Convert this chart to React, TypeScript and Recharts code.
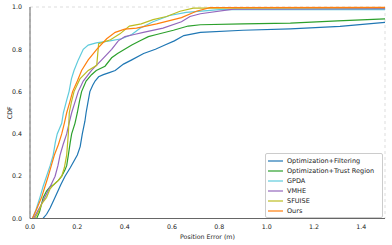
import React from 'react';
import { LineChart, Line, XAxis, YAxis, CartesianGrid, Legend } from 'recharts';

// CDF curves: [position error (m), CDF]
const OPT_FILTERING: [number, number][] = [
  [0, 0], [0.055, 0], [0.07, 0.02], [0.085, 0.05], [0.106, 0.1], [0.13, 0.16], [0.148, 0.2], [0.17, 0.24],
  [0.2, 0.3], [0.212, 0.34], [0.221, 0.4], [0.232, 0.46], [0.237, 0.5], [0.245, 0.55], [0.253, 0.6],
  [0.265, 0.63], [0.275, 0.65], [0.29, 0.67], [0.31, 0.68], [0.335, 0.69], [0.36, 0.7], [0.395, 0.73],
  [0.43, 0.75], [0.48, 0.78], [0.53, 0.8], [0.57, 0.82], [0.61, 0.84], [0.65, 0.865], [0.72, 0.88],
  [0.9, 0.89], [1.1, 0.897], [1.31, 0.908], [1.5, 0.927],
];
const OPT_TRUST: [number, number][] = [
  [0, 0], [0.028, 0], [0.04, 0.03], [0.056, 0.1], [0.07, 0.13], [0.085, 0.15], [0.1, 0.16], [0.12, 0.18],
  [0.134, 0.2], [0.148, 0.23], [0.155, 0.25], [0.162, 0.3], [0.17, 0.36], [0.176, 0.4], [0.19, 0.45],
  [0.2, 0.5], [0.21, 0.56], [0.218, 0.6], [0.237, 0.65], [0.26, 0.68], [0.28, 0.7], [0.317, 0.72],
  [0.345, 0.76], [0.37, 0.78], [0.4, 0.8], [0.43, 0.82], [0.465, 0.84], [0.5, 0.86], [0.535, 0.87],
  [0.606, 0.89], [0.668, 0.91], [0.72, 0.916], [0.9, 0.92], [1.1, 0.924], [1.3, 0.934], [1.5, 0.944],
];
const GPDA: [number, number][] = [
  [0, 0], [0.01, 0], [0.025, 0.04], [0.042, 0.1], [0.055, 0.15], [0.07, 0.2], [0.085, 0.25], [0.098, 0.3],
  [0.107, 0.36], [0.115, 0.4], [0.134, 0.45], [0.141, 0.5], [0.155, 0.56], [0.165, 0.6], [0.175, 0.66],
  [0.186, 0.7], [0.204, 0.75], [0.225, 0.8], [0.246, 0.82], [0.28, 0.83], [0.338, 0.84], [0.387, 0.85],
  [0.43, 0.87], [0.465, 0.9], [0.52, 0.93], [0.59, 0.96], [0.66, 0.975], [0.8, 0.988], [1.5, 0.988],
];
const VMHE: [number, number][] = [
  [0, 0], [0.015, 0], [0.03, 0.03], [0.045, 0.06], [0.063, 0.1], [0.085, 0.15], [0.106, 0.2], [0.118, 0.25],
  [0.127, 0.3], [0.14, 0.35], [0.155, 0.4], [0.165, 0.45], [0.176, 0.5], [0.19, 0.55], [0.204, 0.6],
  [0.225, 0.65], [0.26, 0.7], [0.303, 0.75], [0.345, 0.8], [0.373, 0.84], [0.401, 0.86], [0.44, 0.87],
  [0.479, 0.88], [0.562, 0.9], [0.64, 0.93], [0.676, 0.955], [0.72, 0.968], [0.86, 0.99], [1.5, 0.992],
];
const SFUISE: [number, number][] = [
  [0, 0], [0.02, 0], [0.035, 0.03], [0.05, 0.07], [0.07, 0.1], [0.085, 0.14], [0.1, 0.16], [0.12, 0.18],
  [0.134, 0.2], [0.145, 0.24], [0.155, 0.3], [0.162, 0.4], [0.166, 0.5], [0.175, 0.55], [0.186, 0.6],
  [0.211, 0.66], [0.246, 0.7], [0.282, 0.724], [0.29, 0.826], [0.34, 0.845], [0.38, 0.873], [0.42, 0.91],
  [0.47, 0.92], [0.52, 0.94], [0.577, 0.955], [0.634, 0.98], [0.69, 0.995], [1.5, 0.997],
];
const OURS: [number, number][] = [
  [0, 0], [0.01, 0], [0.03, 0.05], [0.049, 0.1], [0.063, 0.15], [0.077, 0.2], [0.09, 0.25], [0.103, 0.3],
  [0.12, 0.35], [0.134, 0.4], [0.145, 0.45], [0.155, 0.5], [0.168, 0.55], [0.18, 0.6], [0.2, 0.65],
  [0.218, 0.7], [0.246, 0.75], [0.282, 0.8], [0.324, 0.85], [0.36, 0.88], [0.4, 0.895], [0.45, 0.9],
  [0.535, 0.92], [0.64, 0.95], [0.703, 0.98], [0.76, 0.997], [1.5, 0.998],
];

const X_TICKS = [0, 0.2, 0.4, 0.6, 0.8, 1.0, 1.2, 1.4];
const Y_TICKS = [0, 0.2, 0.4, 0.6, 0.8, 1.0];

const SERIES = [
  { name: 'Optimization+Filtering', color: '#1f77b4', points: OPT_FILTERING },
  { name: 'Optimization+Trust Region', color: '#2ca02c', points: OPT_TRUST },
  { name: 'GPDA', color: '#5fcbdc', points: GPDA },
  { name: 'VMHE', color: '#9467bd', points: VMHE },
  { name: 'SFUISE', color: '#bcbd22', points: SFUISE },
  { name: 'Ours', color: '#ff7f0e', points: OURS },
];

const FONT = '"DejaVu Sans", sans-serif';
const SPINE = '#666';

const renderLegend = () => (
  <div style={{
    width: 114, padding: '2px 0 1px 2px', background: 'rgba(255,255,255,0.85)',
    border: '1px solid #ccc', borderRadius: 2, fontFamily: FONT, fontSize: 6.5, color: '#222',
  }}>
    {SERIES.map((s) => (
      <div key={s.name} style={{ display: 'flex', alignItems: 'center', height: 10 }}>
        <span style={{ width: 15, height: 1.5, background: s.color, opacity: 0.6, marginRight: 4 }} />
        <span>{s.name}</span>
      </div>
    ))}
  </div>
);

export default function App() {
  return (
    <div style={{ position: 'absolute', left: 0, top: 0, background: '#fff' }}>
      <LineChart width={392} height={245} margin={{ top: 7, right: 7, left: 0, bottom: 0 }}>
        <CartesianGrid stroke="#ddd" strokeDasharray="3 3" />
        <XAxis
          xAxisId="b" dataKey="x" type="number" domain={[0, 1.5]} ticks={X_TICKS} height={26.5}
          tickFormatter={(v: number) => v.toFixed(1)} tickLine={false} tickMargin={0}
          stroke={SPINE} tick={{ fontSize: 6.3, fill: '#222', fontFamily: FONT }}
          label={{ value: 'Position Error (m)', position: 'insideBottom', offset: 6, fontSize: 6.3, fill: '#222', fontFamily: FONT }}
        />
        <XAxis xAxisId="t" orientation="top" type="number" domain={[0, 1.5]} height={0} tick={false} tickLine={false} stroke={SPINE} />
        <YAxis
          yAxisId="l" type="number" domain={[0, 1]} ticks={Y_TICKS} width={30}
          tickFormatter={(v: number) => v.toFixed(1)} tickLine={false} tickMargin={2}
          stroke={SPINE} tick={{ fontSize: 6.3, fill: '#222', fontFamily: FONT }}
          label={{ value: 'CDF', angle: -90, position: 'insideLeft', offset: 10, fontSize: 6.3, fill: '#222', fontFamily: FONT, style: { textAnchor: 'middle' } }}
        />
        <YAxis yAxisId="r" orientation="right" type="number" domain={[0, 1]} width={0} tick={false} tickLine={false} stroke={SPINE} />
        {SERIES.map((s) => (
          <Line
            key={s.name} xAxisId="b" yAxisId="l" name={s.name}
            data={s.points.map(([x, y]) => ({ x, y }))} dataKey="y"
            type="linear" stroke={s.color} strokeWidth={1.2} dot={false} isAnimationActive={false}
          />
        ))}
        <Legend layout="vertical" align="center" verticalAlign="middle" content={renderLegend} wrapperStyle={{ left: 265, top: 153, width: 117 }} />
      </LineChart>
    </div>
  );
}
